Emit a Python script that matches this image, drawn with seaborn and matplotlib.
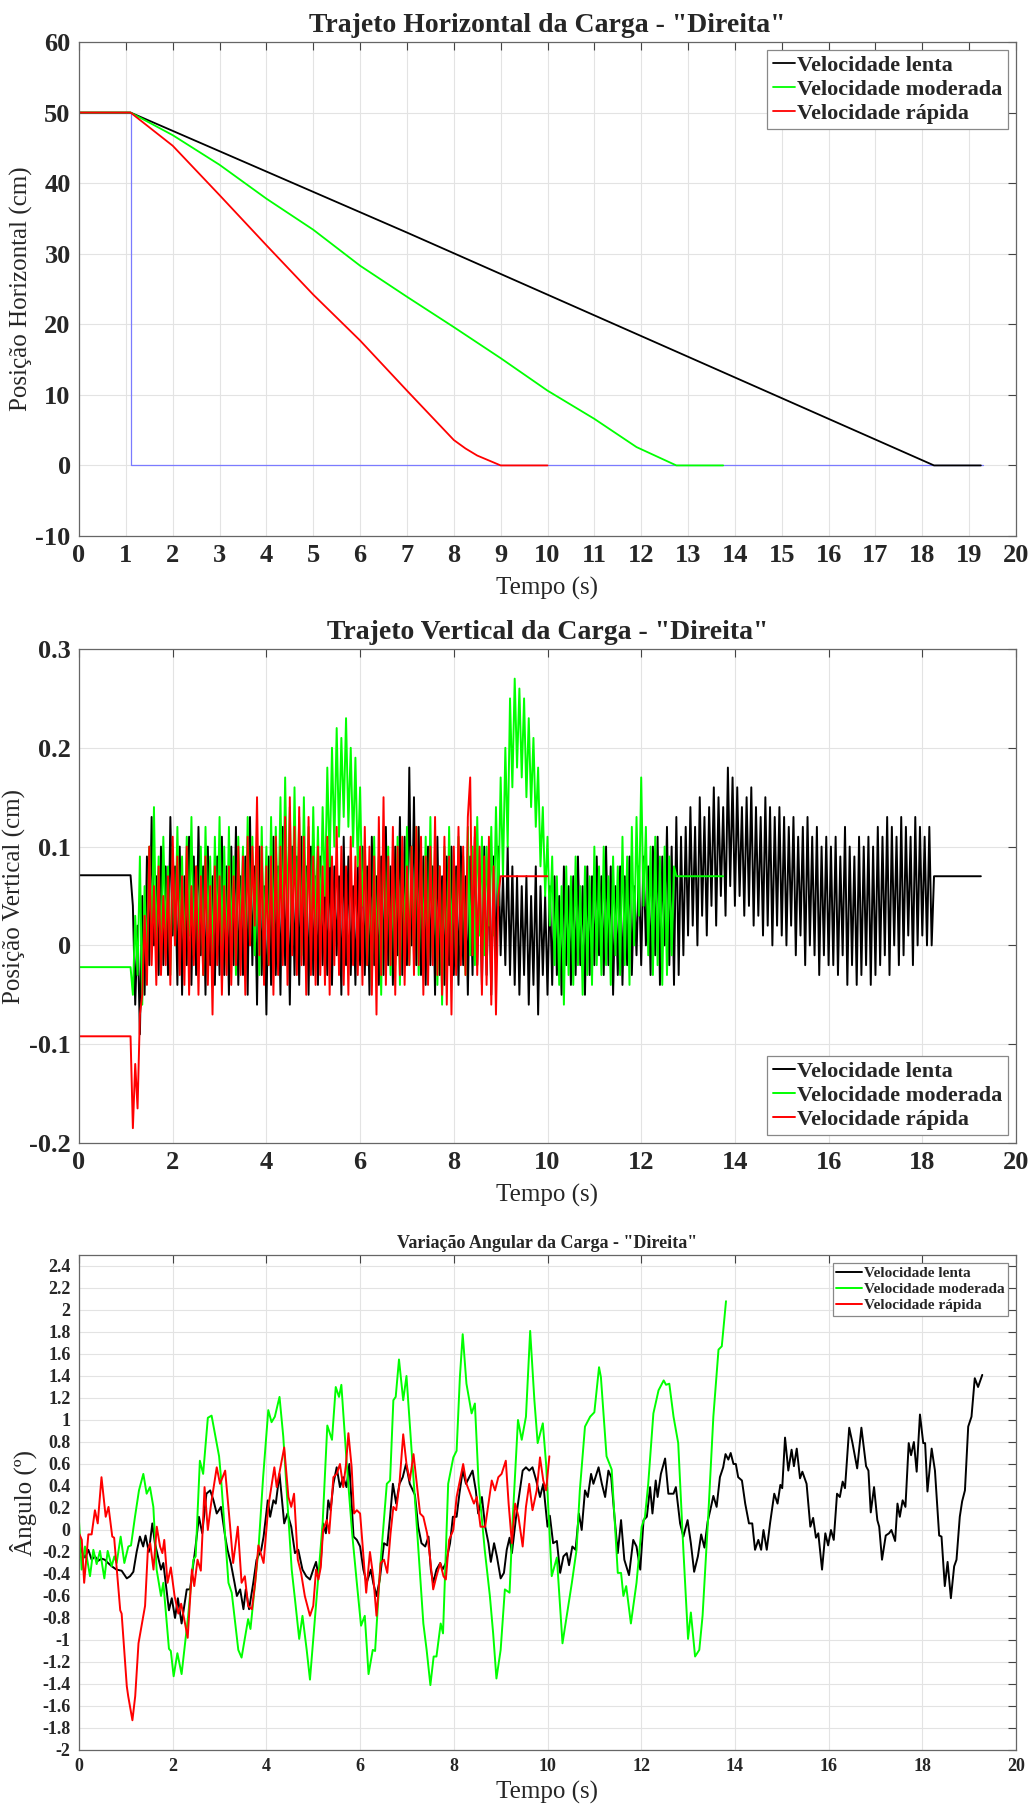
import numpy as np
import pandas as pd
import matplotlib
matplotlib.use("Agg")
import matplotlib.pyplot as plt
import seaborn as sns
from matplotlib.ticker import FuncFormatter, MultipleLocator

sns.set_style("white")
plt.rcParams["font.family"] = ["Liberation Serif", "DejaVu Serif"]
plt.rcParams["axes.unicode_minus"] = False

# ---------------- labels ----------------
series_labels = ["Velocidade lenta", "Velocidade moderada", "Velocidade rápida"]
series_colors = ["#000000", "#00ff00", "#ff0000"]
titles = ['Trajeto Horizontal da Carga - "Direita"',
          'Trajeto Vertical da Carga - "Direita"',
          'Variação Angular da Carga - "Direita"']
xlabel = "Tempo (s)"
ylabels = ["Posição Horizontal (cm)", "Posição Vertical (cm)", "Ângulo (º)"]

# ---------------- panel 1 : horizontal position (breakpoints) ----------------
hor_lenta_t = [0.0, 1.1, 7.0, 18.25, 19.25]
hor_lenta_v = [50.0, 50.0, 33.0, 0.0, 0.0]
hor_moderada_t = [0.0, 1.1, 2.0, 3.0, 4.0, 5.0, 6.0, 7.0, 8.0, 9.0, 10.0, 11.0, 11.9, 12.75, 13.75]
hor_moderada_v = [50.0, 50.0, 46.8, 42.6, 37.8, 33.4, 28.3, 23.9, 19.6, 15.2, 10.6, 6.6, 2.6, 0.0, 0.0]
hor_rapida_t = [0.0, 1.1, 2.0, 3.0, 4.0, 5.0, 6.0, 7.0, 8.0, 8.25, 8.5, 9.0, 10.0]
hor_rapida_v = [50.0, 50.0, 45.3, 38.3, 31.2, 24.2, 17.7, 10.6, 3.6, 2.4, 1.4, 0.0, 0.0]
hor_ref_t = [0.0, 1.1, 1.1, 19.3]
hor_ref_v = [50.0, 50.0, 0.0, 0.0]

# ---------------- panel 2 : vertical position ----------------
vert_pre_t = 0.0
vert_start_t = 1.10
vert_step = 0.05
vert_lenta_pre = 0.071
vert_lenta = [
    0.071, 0.04, -0.06, 0.02, -0.09, 0.05, -0.05, 0.09, -0.02, 0.13, 0.0, 0.07, -0.03, 0.1, -0.02, 0.08, -0.03, 0.13, 0.01, 0.08,
    -0.04, 0.1, -0.05, 0.07, -0.02, 0.11, -0.04, 0.09, -0.03, 0.12, -0.01, 0.08, -0.05, 0.1, -0.02, 0.07, -0.04, 0.09, -0.03, 0.11,
    -0.03, 0.08, -0.05, 0.1, -0.02, 0.12, -0.04, 0.07, -0.03, 0.09, -0.05, 0.13, -0.02, 0.08, -0.06, 0.1, -0.03, 0.06, -0.07, 0.09,
    -0.04, 0.11, -0.03, 0.08, -0.05, 0.12, -0.02, 0.07, -0.06, 0.1, -0.03, 0.09, -0.04, 0.11, -0.02, 0.08, -0.05, 0.1, -0.03, 0.07,
    -0.04, 0.09, -0.02, 0.06, -0.03, 0.1, -0.04, 0.08, -0.01, 0.07, -0.05, 0.11, -0.02, 0.09, -0.03, 0.06, -0.04, 0.08, -0.02, 0.1,
    -0.03, 0.08, -0.05, 0.11, -0.02, 0.07, -0.04, 0.09, -0.03, 0.12, -0.02, 0.08, -0.04, 0.1, -0.01, 0.13, -0.03, 0.11, -0.02, 0.18,
    0.0, 0.15, -0.02, 0.12, -0.03, 0.09, -0.04, 0.1, -0.02, 0.08, -0.05, 0.11, -0.03, 0.07, -0.04, 0.09, -0.02, 0.1, -0.03, 0.08,
    -0.04, 0.1, -0.02, 0.07, -0.05, 0.09, -0.03, 0.11, -0.02, 0.08, -0.04, 0.1, -0.03, 0.07, -0.05, 0.09, -0.02, 0.1, -0.01, 0.07,
    -0.02, 0.1, -0.03, 0.08, -0.04, 0.07, -0.05, 0.06, -0.03, 0.07, -0.06, 0.05, -0.04, 0.08, -0.07, 0.06, -0.03, 0.05, -0.05, 0.06,
    -0.04, 0.07, -0.03, 0.05, -0.05, 0.08, -0.02, 0.06, -0.04, 0.07, -0.03, 0.09, -0.02, 0.06, -0.05, 0.08, -0.03, 0.07, -0.02, 0.09,
    -0.01, 0.07, -0.03, 0.1, -0.02, 0.08, -0.05, 0.06, -0.03, 0.08, -0.04, 0.07, -0.02, 0.09, -0.03, 0.06, -0.01, 0.08, -0.02, 0.09,
    0.0, 0.08, -0.03, 0.1, -0.01, 0.11, -0.04, 0.09, 0.0, 0.12, -0.02, 0.1, -0.04, 0.13, -0.03, 0.11, -0.01, 0.12, 0.01, 0.14,
    0.02, 0.12, 0.0, 0.15, 0.03, 0.13, 0.01, 0.14, 0.04, 0.16, 0.02, 0.15, 0.05, 0.14, 0.03, 0.18, 0.06, 0.17, 0.04, 0.16,
    0.05, 0.14, 0.03, 0.15, 0.04, 0.16, 0.02, 0.14, 0.03, 0.13, 0.01, 0.15, 0.02, 0.14, 0.0, 0.13, 0.02, 0.14, 0.01, 0.13,
    0.0, 0.12, 0.02, 0.13, -0.01, 0.11, 0.01, 0.12, -0.02, 0.13, 0.0, 0.11, -0.01, 0.12, -0.03, 0.1, -0.01, 0.11, -0.02, 0.1,
    -0.02, 0.11, -0.03, 0.09, -0.01, 0.12, -0.04, 0.1, -0.02, 0.09, -0.04, 0.11, -0.03, 0.1, -0.02, 0.11, -0.04, 0.1, -0.03, 0.12,
    -0.02, 0.11, -0.01, 0.13, -0.03, 0.12, 0.0, 0.11, -0.02, 0.13, -0.01, 0.12, 0.01, 0.11, -0.02, 0.13, 0.0, 0.12, 0.01, 0.11,
    0.0, 0.12, 0.0, 0.07,
]
vert_lenta_end = (19.25, 0.07)

vert_moderada_pre = -0.022
vert_moderada = [
    -0.022, -0.05, 0.03, -0.03, 0.09, -0.06, 0.06, -0.02, 0.1, 0.0, 0.14, -0.01, 0.09, -0.02, 0.11, 0.01, 0.08, -0.03, 0.1, 0.0,
    0.12, 0.0, 0.09, -0.02, 0.11, 0.01, 0.13, -0.01, 0.08, 0.0, 0.1, -0.03, 0.12, 0.01, 0.09, -0.02, 0.11, 0.0, 0.13, -0.01,
    0.1, -0.02, 0.12, 0.0, 0.09, -0.03, 0.11, 0.01, 0.1, -0.02, 0.13, 0.0, 0.11, -0.01, 0.09, -0.03, 0.12, 0.0, 0.1, -0.02,
    0.13, 0.0, 0.12, 0.02, 0.15, 0.01, 0.17, 0.03, 0.14, 0.0, 0.16, 0.02, 0.13, -0.01, 0.15, 0.01, 0.12, 0.0, 0.14, 0.02,
    0.12, 0.02, 0.14, 0.05, 0.18, 0.08, 0.2, 0.1, 0.22, 0.11, 0.21, 0.13, 0.23, 0.12, 0.2, 0.1, 0.19, 0.08, 0.16, 0.04,
    0.1, -0.02, 0.08, -0.04, 0.11, -0.01, 0.09, -0.05, 0.12, 0.0, 0.1, -0.03, 0.08, -0.02, 0.11, -0.04, 0.09, 0.0, 0.12, -0.02,
    0.1, -0.01, 0.12, -0.03, 0.09, 0.0, 0.11, -0.02, 0.13, -0.01, 0.1, -0.04, 0.08, -0.06, 0.1, -0.03, 0.12, -0.01, 0.09, -0.02,
    0.11, 0.0, 0.09, -0.03, 0.12, -0.01, 0.1, -0.02, 0.13, 0.01, 0.11, -0.01, 0.1, 0.02, 0.12, 0.01, 0.14, 0.04, 0.17, 0.07,
    0.2, 0.1, 0.25, 0.16, 0.27, 0.18, 0.26, 0.17, 0.25, 0.15, 0.23, 0.14, 0.21, 0.12, 0.18, 0.08, 0.14, 0.05, 0.11, 0.02,
    0.09, -0.02, 0.07, -0.04, 0.06, -0.06, 0.08, -0.03, 0.07, -0.04, 0.09, -0.02, 0.06, -0.05, 0.08, -0.03, 0.07, -0.04, 0.1, -0.02,
    0.08, -0.03, 0.1, -0.02, 0.07, -0.04, 0.09, -0.01, 0.08, -0.03, 0.11, -0.02, 0.09, -0.04, 0.12, 0.0, 0.13, 0.03, 0.17, 0.04,
    0.12, -0.01, 0.1, -0.03, 0.11, -0.02, 0.09, -0.04, 0.1, -0.03, 0.09, -0.01, 0.08, 0.07,
]
vert_moderada_end = (13.75, 0.07)

vert_rapida_pre = -0.092
vert_rapida = [
    -0.092, -0.185, -0.12, -0.165, -0.07, -0.05, 0.03, -0.04, 0.1, -0.02, 0.06, -0.04, 0.08, -0.03, 0.05, -0.02, 0.07, -0.04, 0.11, 0.0,
    0.09, -0.03, 0.07, -0.04, 0.1, -0.05, 0.06, -0.02, 0.08, -0.05, 0.07, -0.03, 0.09, -0.04, 0.06, -0.07, 0.08, -0.02, 0.07, -0.05,
    0.06, -0.03, 0.08, -0.04, 0.07, -0.02, 0.1, -0.03, 0.09, -0.05, 0.11, 0.0, 0.1, 0.02, 0.15, -0.01, 0.1, -0.04, 0.08, -0.02,
    0.09, -0.05, 0.11, -0.03, 0.1, -0.02, 0.13, -0.04, 0.15, -0.01, 0.12, -0.03, 0.14, -0.02, 0.11, -0.05, 0.13, -0.03, 0.09, -0.04,
    0.1, -0.03, 0.08, -0.04, 0.11, -0.05, 0.09, -0.02, 0.12, -0.03, 0.1, -0.04, 0.08, -0.05, 0.11, -0.02, 0.09, -0.03, 0.1, -0.04,
    0.12, -0.02, 0.1, -0.05, 0.09, -0.07, 0.13, -0.03, 0.15, -0.04, 0.09, -0.02, 0.12, -0.05, 0.1, -0.03, 0.11, -0.04, 0.08, -0.02,
    0.1, -0.03, 0.12, -0.02, 0.11, -0.05, 0.09, -0.04, 0.1, -0.02, 0.13, -0.03, 0.08, -0.05, 0.11, -0.06, 0.09, -0.07, 0.1, -0.03,
    0.12, -0.02, 0.1, -0.03, 0.13, 0.17, -0.01, 0.12, -0.03, 0.1, -0.05, 0.09, -0.04, 0.11, -0.06, 0.08, -0.07, 0.05, 0.07,
]
vert_rapida_end = (10.0, 0.07)

ang_lenta_t = [0.0, 0.06, 0.13, 0.2, 0.27, 0.34, 0.41, 0.48, 0.55, 0.62, 0.7, 0.8, 0.91, 1.02, 1.09, 1.16, 1.23, 1.3, 1.37, 1.42,
               1.49, 1.565, 1.62, 1.75, 1.8, 1.92, 1.98, 2.05, 2.11, 2.19, 2.3, 2.37, 2.48, 2.56, 2.63, 2.72, 2.8, 2.87, 2.94, 3.03,
               3.12, 3.17, 3.24, 3.32, 3.37, 3.44, 3.51, 3.56, 3.63, 3.72, 3.79, 3.89, 3.94, 4.03, 4.08, 4.15, 4.2, 4.28, 4.38, 4.45,
               4.53, 4.61, 4.68, 4.77, 4.85, 4.93, 5.0, 5.06, 5.11, 5.16, 5.21, 5.27, 5.32, 5.37, 5.43, 5.5, 5.57, 5.64, 5.71, 5.77,
               5.86, 5.93, 6.0, 6.07, 6.14, 6.23, 6.28, 6.35, 6.42, 6.51, 6.58, 6.64, 6.7, 6.77, 6.84, 6.91, 6.98, 7.06, 7.17, 7.24,
               7.31, 7.39, 7.46, 7.51, 7.56, 7.63, 7.71, 7.76, 7.83, 7.92, 7.98, 8.06, 8.12, 8.19, 8.26, 8.33, 8.4, 8.47, 8.52, 8.6,
               8.67, 8.74, 8.79, 8.86, 8.92, 9.0, 9.07, 9.13, 9.19, 9.24, 9.33, 9.4, 9.47, 9.54, 9.61, 9.68, 9.76, 9.84, 9.91, 10.0,
               10.05, 10.12, 10.2, 10.27, 10.34, 10.41, 10.46, 10.53, 10.6, 10.67, 10.73, 10.8, 10.86, 10.93, 10.98, 11.09, 11.16, 11.23, 11.3, 11.36,
               11.43, 11.5, 11.57, 11.64, 11.74, 11.83, 11.9, 11.98, 12.05, 12.12, 12.19, 12.24, 12.31, 12.35, 12.42, 12.51, 12.58, 12.69, 12.74, 12.83,
               12.9, 12.99, 13.06, 13.13, 13.21, 13.28, 13.35, 13.42, 13.49, 13.54, 13.61, 13.68, 13.75, 13.8, 13.86, 13.91, 13.97, 14.02, 14.07, 14.15,
               14.22, 14.3, 14.37, 14.43, 14.5, 14.56, 14.61, 14.68, 14.75, 14.84, 14.91, 14.97, 15.01, 15.07, 15.14, 15.21, 15.26, 15.32, 15.39, 15.44,
               15.53, 15.61, 15.67, 15.73, 15.78, 15.86, 15.93, 15.99, 16.05, 16.11, 16.18, 16.24, 16.3, 16.35, 16.44, 16.51, 16.61, 16.7, 16.8, 16.85,
               16.9, 16.97, 17.04, 17.08, 17.14, 17.22, 17.29, 17.34, 17.42, 17.47, 17.52, 17.58, 17.64, 17.71, 17.76, 17.82, 17.88, 17.95, 18.02, 18.06,
               18.11, 18.2, 18.27, 18.36, 18.41, 18.48, 18.54, 18.61, 18.68, 18.73, 18.8, 18.85, 18.91, 18.98, 19.05, 19.12, 19.19, 19.28]
ang_lenta_v = [-0.1, -0.2, -0.25, -0.18, -0.27, -0.24, -0.28, -0.26, -0.27, -0.3, -0.33, -0.36, -0.37, -0.44, -0.42, -0.38, -0.2, -0.06, -0.15, -0.05,
               -0.2, 0.06, -0.12, -0.36, -0.3, -0.73, -0.62, -0.8, -0.62, -0.85, -0.54, -0.54, -0.18, 0.12, -0.03, 0.33, 0.36, 0.27, 0.15, 0.21,
               -0.06, -0.18, -0.3, -0.48, -0.6, -0.54, -0.72, -0.54, -0.72, -0.48, -0.27, -0.18, -0.06, 0.27, 0.12, 0.27, 0.24, 0.51, 0.06, 0.15,
               0.03, -0.21, -0.18, -0.36, -0.42, -0.45, -0.36, -0.29, -0.42, -0.3, 0.06, -0.03, 0.27, 0.18, 0.42, 0.57, 0.39, 0.48, 0.39, 0.6,
               -0.06, -0.09, -0.15, -0.36, -0.48, -0.36, -0.48, -0.6, -0.45, -0.12, -0.14, 0.12, 0.42, 0.24, 0.42, 0.48, 0.6, 0.42, 0.32, 0.03,
               -0.12, -0.15, -0.06, -0.36, -0.48, -0.36, -0.3, -0.36, -0.3, -0.12, 0.12, 0.12, 0.33, 0.54, 0.42, 0.48, 0.54, 0.36, 0.15, 0.3,
               0.03, -0.12, -0.29, -0.12, -0.24, -0.44, -0.39, -0.18, -0.07, -0.21, 0.12, 0.33, 0.54, 0.57, 0.54, 0.57, 0.45, 0.3, 0.42, 0.03,
               0.13, -0.12, -0.1, -0.39, -0.24, -0.21, -0.32, -0.15, -0.18, 0.15, 0.0, 0.36, 0.3, 0.51, 0.42, 0.57, 0.42, 0.3, 0.54, 0.48,
               0.12, -0.21, 0.09, -0.27, -0.41, -0.09, -0.15, -0.36, 0.09, 0.12, 0.39, 0.15, 0.45, 0.3, 0.51, 0.65, 0.33, 0.33, 0.39, 0.06,
               -0.06, 0.09, -0.12, -0.38, -0.24, -0.04, -0.16, 0.08, 0.21, 0.31, 0.21, 0.48, 0.57, 0.69, 0.64, 0.7, 0.6, 0.6, 0.48, 0.45,
               0.24, 0.06, 0.06, -0.18, -0.09, -0.18, 0.0, -0.18, 0.06, 0.33, 0.24, 0.41, 0.38, 0.84, 0.54, 0.73, 0.58, 0.74, 0.47, 0.53,
               0.42, 0.03, 0.11, -0.07, -0.03, -0.36, -0.03, -0.14, 0.0, -0.09, 0.33, 0.3, 0.44, 0.38, 0.93, 0.79, 0.56, 0.93, 0.58, 0.54,
               0.16, 0.39, 0.09, 0.03, -0.27, -0.05, -0.03, 0.0, -0.1, 0.24, 0.12, 0.27, 0.21, 0.79, 0.68, 0.8, 0.53, 1.05, 0.79, 0.79,
               0.35, 0.74, 0.54, -0.05, -0.06, -0.51, -0.29, -0.62, -0.33, -0.27, 0.12, 0.26, 0.36, 0.94, 1.03, 1.38, 1.3, 1.41]

ang_moderada_t = [0.0, 0.057, 0.128, 0.235, 0.306, 0.377, 0.448, 0.541, 0.612, 0.697, 0.754, 0.804, 0.889, 0.968, 1.053, 1.11, 1.195, 1.28, 1.373, 1.444,
                  1.515, 1.587, 1.657, 1.75, 1.8, 1.92, 1.96, 2.02, 2.1, 2.19, 2.33, 2.44, 2.49, 2.58, 2.65, 2.75, 2.83, 2.99, 3.03, 3.19,
                  3.26, 3.4, 3.47, 3.61, 3.66, 3.83, 3.93, 4.04, 4.11, 4.18, 4.28, 4.36, 4.54, 4.61, 4.7, 4.77, 4.86, 4.93, 5.07, 5.2,
                  5.3, 5.4, 5.48, 5.55, 5.6, 5.72, 5.83, 5.93, 6.02, 6.1, 6.18, 6.27, 6.32, 6.43, 6.57, 6.64, 6.71, 6.76, 6.83, 6.92,
                  6.99, 7.1, 7.23, 7.35, 7.42, 7.5, 7.57, 7.63, 7.72, 7.77, 7.88, 7.99, 8.06, 8.13, 8.19, 8.27, 8.38, 8.45, 8.53, 8.66,
                  8.77, 8.84, 8.91, 9.0, 9.09, 9.19, 9.26, 9.37, 9.45, 9.54, 9.63, 9.72, 9.79, 9.9, 9.97, 10.09, 10.2, 10.32, 10.41, 10.52,
                  10.62, 10.69, 10.8, 10.91, 11.0, 11.1, 11.14, 11.26, 11.37, 11.5, 11.57, 11.62, 11.68, 11.78, 11.9, 12.01, 12.08, 12.15, 12.26, 12.37,
                  12.48, 12.53, 12.6, 12.69, 12.79, 12.9, 13.0, 13.06, 13.15, 13.24, 13.31, 13.43, 13.54, 13.65, 13.72, 13.81]
ang_moderada_v = [0.08, -0.36, -0.15, -0.42, -0.18, -0.31, -0.19, -0.44, -0.19, -0.33, -0.24, -0.3, -0.06, -0.3, -0.15, -0.14, 0.12, 0.36, 0.51, 0.33,
                  0.39, 0.21, -0.36, -0.6, -0.48, -1.08, -1.1, -1.33, -1.12, -1.31, -0.78, -0.27, -0.24, 0.63, 0.51, 1.02, 1.04, 0.67, 0.48, -0.48,
                  -0.57, -1.09, -1.16, -0.81, -0.9, -0.18, 0.48, 1.09, 0.98, 1.03, 1.21, 0.85, -0.36, -0.63, -0.99, -0.78, -1.09, -1.36, -0.63, 0.06,
                  0.95, 0.82, 1.3, 1.21, 1.32, 0.57, -0.03, -0.48, -0.87, -0.78, -1.31, -1.09, -1.1, -0.33, 0.42, 0.45, 1.18, 1.21, 1.55, 1.18,
                  1.4, 0.72, -0.09, -0.85, -1.09, -1.41, -1.15, -1.15, -0.85, -0.94, 0.42, 0.66, 0.72, 1.39, 1.78, 1.33, 1.06, 1.15, 0.42, -0.18,
                  -0.6, -0.94, -1.35, -1.09, -0.54, -0.57, 0.12, 1.0, 0.82, 1.03, 1.81, 1.18, 0.79, 0.97, 0.6, -0.42, -0.25, -1.03, -0.78, -0.48,
                  -0.18, 0.36, 0.94, 1.03, 1.07, 1.48, 1.39, 0.67, 0.55, -0.39, -0.39, -0.6, -0.51, -0.85, -0.48, 0.03, 0.12, 0.42, 1.06, 1.27,
                  1.36, 1.32, 1.33, 1.03, 0.79, -0.18, -0.99, -0.75, -1.15, -1.09, -0.78, 0.12, 1.03, 1.64, 1.67, 2.08]

ang_rapida_t = [0.0, 0.06, 0.11, 0.2, 0.27, 0.34, 0.4, 0.48, 0.57, 0.63, 0.71, 0.75, 0.88, 0.91, 1.02, 1.05, 1.14, 1.2, 1.27, 1.32,
                1.41, 1.47, 1.52, 1.59, 1.66, 1.73, 1.78, 1.82, 1.89, 1.96, 2.04, 2.12, 2.18, 2.25, 2.32, 2.41, 2.46, 2.53, 2.6, 2.68,
                2.75, 2.82, 2.94, 3.01, 3.12, 3.22, 3.29, 3.39, 3.47, 3.54, 3.61, 3.69, 3.76, 3.83, 3.94, 4.04, 4.17, 4.22, 4.38, 4.47,
                4.53, 4.59, 4.67, 4.74, 4.82, 4.93, 5.0, 5.06, 5.11, 5.16, 5.21, 5.29, 5.34, 5.43, 5.5, 5.57, 5.64, 5.7, 5.75, 5.82,
                5.87, 5.93, 6.0, 6.05, 6.13, 6.21, 6.28, 6.35, 6.44, 6.51, 6.58, 6.65, 6.71, 6.77, 6.84, 6.92, 6.99, 7.06, 7.14, 7.21,
                7.28, 7.35, 7.43, 7.49, 7.56, 7.63, 7.71, 7.78, 7.83, 7.9, 7.99, 8.06, 8.13, 8.2, 8.27, 8.35, 8.43, 8.49, 8.57, 8.67,
                8.74, 8.81, 8.88, 8.95, 9.02, 9.11, 9.17, 9.24, 9.31, 9.38, 9.47, 9.54, 9.61, 9.68, 9.77, 9.84, 9.91, 9.97, 10.04]
ang_rapida_v = [-0.03, -0.09, -0.48, -0.04, -0.04, 0.18, 0.06, 0.48, 0.12, 0.21, -0.06, -0.07, -0.73, -0.76, -1.42, -1.51, -1.73, -1.51, -1.03, -0.91,
                -0.69, -0.18, -0.12, -0.36, 0.03, -0.15, -0.21, -0.09, -0.48, -0.34, -0.6, -0.76, -0.67, -0.82, -0.98, -0.36, -0.51, -0.27, -0.37, 0.39,
                0.0, 0.24, 0.57, 0.42, 0.54, 0.06, -0.3, 0.03, -0.48, -0.42, -0.69, -0.72, -0.48, -0.14, -0.3, 0.21, 0.57, 0.39, 0.75, 0.3,
                0.21, 0.33, -0.27, -0.39, -0.6, -0.78, -0.69, -0.36, -0.45, -0.34, 0.0, 0.09, -0.03, 0.48, 0.51, 0.6, 0.39, 0.6, 0.88, 0.57,
                0.15, 0.18, 0.15, -0.12, -0.57, -0.2, -0.42, -0.78, -0.3, -0.27, -0.39, -0.03, 0.21, 0.18, 0.42, 0.87, 0.6, 0.45, 0.69, 0.42,
                0.15, 0.12, -0.03, -0.24, -0.54, -0.42, -0.3, -0.42, -0.45, -0.09, 0.0, 0.3, 0.45, 0.6, 0.42, 0.33, 0.24, 0.3, 0.03, 0.03,
                0.24, 0.45, 0.36, 0.48, 0.51, 0.63, 0.24, -0.12, 0.24, 0.12, -0.15, 0.21, 0.42, 0.18, 0.36, 0.66, 0.45, 0.36, 0.67]

# ---------------- figure ----------------
fig = plt.figure(figsize=(10.35, 18.05), dpi=100)
L, W, H = 79 / 1035, 937 / 1035, 494 / 1805
ax1 = fig.add_axes([L, 1 - 536 / 1805, W, H])
ax2 = fig.add_axes([L, 1 - 1143 / 1805, W, H])
ax3 = fig.add_axes([L, 1 - 1750 / 1805, W, 495 / 1805])

def fmt(v, pos):
    v = round(v, 6) + 0.0
    return f"{v:g}"

def style(ax, xstep, ystep, ylim, yticks_top, tick_fs, title, title_fs, title_pad, xlabelpad):
    ax.set_xlim(0, 20)
    ax.set_ylim(*ylim)
    ax.xaxis.set_major_locator(MultipleLocator(xstep))
    ax.set_yticks(np.arange(ylim[0], yticks_top + ystep / 2, ystep))
    ax.xaxis.set_major_formatter(FuncFormatter(fmt))
    ax.yaxis.set_major_formatter(FuncFormatter(fmt))
    ax.grid(True, color="#e3e3e3", lw=0.8)
    ax.set_axisbelow(True)
    ax.tick_params(direction="in", top=True, right=True, length=6, width=0.8,
                   color="#444444", labelsize=tick_fs, pad=6)
    for lab in ax.get_xticklabels() + ax.get_yticklabels():
        lab.set_fontweight("bold")
    for s in ax.spines.values():
        s.set_color("#666666")
        s.set_linewidth(0.9)
    ax.set_title(title, fontsize=title_fs, fontweight="bold", pad=title_pad)
    ax.set_xlabel(xlabel, fontsize=18, labelpad=xlabelpad)

def legend(ax, loc, fs, hl, pad):
    leg = ax.legend(loc=loc, frameon=True, fancybox=False, framealpha=1,
                    edgecolor="#888888", handlelength=hl, handletextpad=0.1,
                    labelspacing=0.15, borderpad=0.25, borderaxespad=pad,
                    prop={"weight": "bold", "size": fs, "family": ["Liberation Serif"]})
    leg.get_frame().set_linewidth(0.9)

# panel 1
sns.lineplot(x=hor_ref_t, y=hor_ref_v, color="#7b7bff", lw=0.9, estimator=None, sort=False, ax=ax1, legend=False)
for t, v, c, lab in zip([hor_lenta_t, hor_moderada_t, hor_rapida_t], [hor_lenta_v, hor_moderada_v, hor_rapida_v],
                        series_colors, series_labels):
    sns.lineplot(x=t, y=v, color=c, lw=1.3, estimator=None, sort=False, ax=ax1, label=lab)
style(ax1, 1, 10, (-10, 60), 60, 19, titles[0], 20, 7, 7)
ax1.set_ylabel(ylabels[0], fontsize=18, labelpad=2)
legend(ax1, "upper right", 16, 1.0, 0.35)

# panel 2
def vert_series(pre, vals, end):
    t = np.concatenate([[vert_pre_t], vert_start_t + vert_step * np.arange(len(vals)), [end[0]]])
    v = np.concatenate([[pre], vals, [end[1]]])
    return t, v

for (pre, vals, end), c, lab in zip([(vert_lenta_pre, vert_lenta, vert_lenta_end),
                                     (vert_moderada_pre, vert_moderada, vert_moderada_end),
                                     (vert_rapida_pre, vert_rapida, vert_rapida_end)],
                                    series_colors, series_labels):
    t, v = vert_series(pre, vals, end)
    sns.lineplot(x=t, y=v, color=c, lw=1.4, estimator=None, sort=False, ax=ax2, label=lab)
style(ax2, 2, 0.1, (-0.2, 0.3), 0.3, 19, titles[1], 20, 7, 7)
ax2.set_ylabel(ylabels[1], fontsize=18, labelpad=2)
legend(ax2, "lower right", 16, 1.0, 0.35)

# panel 3
for t, v, c, lab in zip([ang_lenta_t, ang_moderada_t, ang_rapida_t], [ang_lenta_v, ang_moderada_v, ang_rapida_v],
                        series_colors, series_labels):
    sns.lineplot(x=t, y=v, color=c, lw=1.4, estimator=None, sort=False, ax=ax3, label=lab)
style(ax3, 2, 0.2, (-2, 2.5), 2.4, 13, titles[2], 13, 5, 4)
ax3.set_ylabel(ylabels[2], fontsize=18, labelpad=4)
legend(ax3, "upper right", 11, 1.7, 0.5)

fig.savefig("out.png", dpi=100)
